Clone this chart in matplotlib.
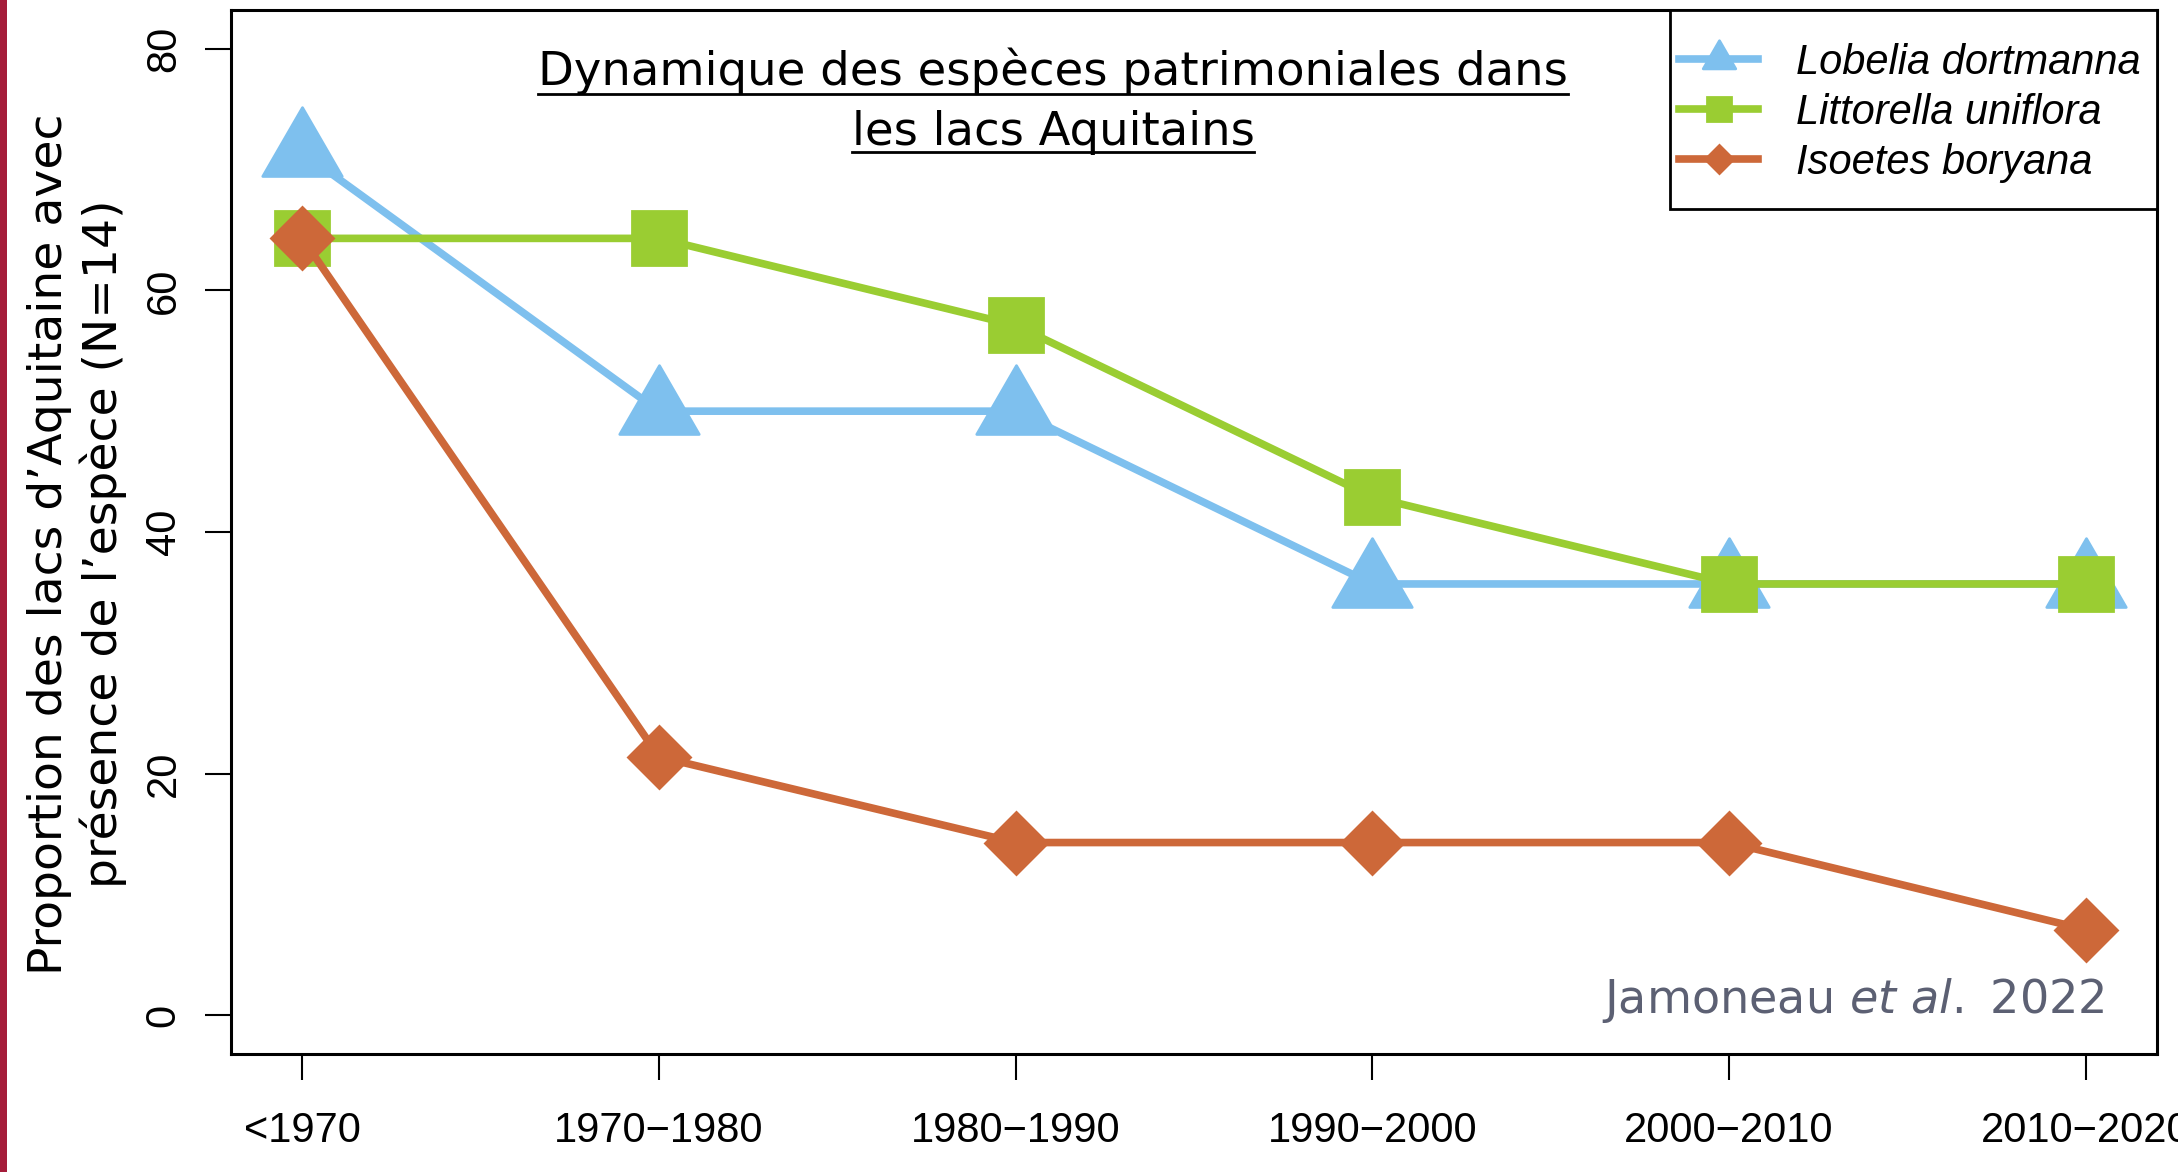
import matplotlib
matplotlib.use("Agg")
import matplotlib.pyplot as plt
from matplotlib.path import Path
from matplotlib.lines import Line2D
from matplotlib.patches import Rectangle
import numpy as np

# ---------------- data ----------------
periods = ["<1970", "1970\u22121980", "1980\u22121990", "1990\u22122000", "2000\u22122010", "2010\u22122020"]
lobelia = [71.4, 50.0, 50.0, 35.7, 35.7, 35.7]
littorella = [64.3, 64.3, 57.1, 42.9, 35.7, 35.7]
isoetes = [64.3, 21.4, 14.3, 14.3, 14.3, 7.1]
species = ["Lobelia dortmanna", "Littorella uniflora", "Isoetes boryana"]
yticks = [0, 20, 40, 60, 80]
title_lines = ["Dynamique des espèces patrimoniales dans", "les lacs Aquitains"]
ylabel_lines = ["Proportion des lacs d\u2019Aquitaine avec", "présence de l\u2019espèce (N=14)"]

c_lob = "#7EC0EE"
c_lit = "#9ACD32"
c_iso = "#CD6839"

plt.rcParams["mathtext.fontset"] = "dejavusans"
SANS = "Liberation Sans"
GEO = "DejaVu Sans"

W, H = 2178, 1172
fig = plt.figure(figsize=(W / 100, H / 100), dpi=100)
fig.patch.set_facecolor("white")


def fx(px):
    return px / W


def fy(py):
    return 1 - py / H


ax = fig.add_axes([fx(231), fy(1054), fx(2157) - fx(231), fy(10) - fy(1054)])

x = np.arange(1, len(periods) + 1)
tri = Path([(0, 0.577), (-0.5, -0.2887), (0.5, -0.2887), (0, 0.577)],
           [Path.MOVETO, Path.LINETO, Path.LINETO, Path.CLOSEPOLY])

ax.plot(x, lobelia, color=c_lob, lw=5.5, marker=tri, ms=66, mec=c_lob, mew=2, zorder=3)
ax.plot(x, littorella, color=c_lit, lw=5.5, marker="s", ms=39, mec=c_lit, mew=2, zorder=4)
ax.plot(x, isoetes, color=c_iso, lw=5.5, marker="D", ms=32, mec=c_iso, mew=2, zorder=5)

ax.set_xlim(0.8, 6.2)
ax.set_ylim(-3.2, 83.2)
ax.set_xticks(x)
ax.set_xticklabels(periods, fontfamily=SANS, fontsize=30)
ax.set_yticks(yticks)
ax.set_yticklabels([str(v) for v in yticks], fontfamily=SANS, fontsize=30,
                   rotation=90, va="center")
ax.tick_params(axis="both", direction="out", length=19, width=1.5, color="black")
ax.tick_params(axis="x", pad=22)
ax.tick_params(axis="y", pad=15)
for s in ax.spines.values():
    s.set_linewidth(2.2)
    s.set_color("black")

# left decorative bar
fig.patches.append(Rectangle((0, 0), fx(7), 1, transform=fig.transFigure,
                             facecolor="#A51C3A", edgecolor="none", zorder=1))

renderer = fig.canvas.get_renderer()


def fit(t, target, rotated=False):
    bb = t.get_window_extent(renderer)
    length = bb.height if rotated else bb.width
    t.set_fontsize(t.get_fontsize() * target / length)


# title
t1 = fig.text(fx(1053), fy(85), title_lines[0], ha="center", va="baseline",
              fontfamily=GEO, fontsize=34, color="black")
fit(t1, 1029)
t2 = fig.text(fx(1053), fy(145), title_lines[1], ha="center", va="baseline",
              fontfamily=GEO, fontsize=t1.get_fontsize(), color="black")
for t, uy in ((t1, 94), (t2, 152)):
    bb = t.get_window_extent(renderer)
    fig.add_artist(Line2D([bb.x0 / W, bb.x1 / W], [fy(uy), fy(uy)],
                          transform=fig.transFigure, color="black", lw=2))

# y label (two centred lines)
yl1 = fig.text(fx(62), fy(544), ylabel_lines[0], rotation=90, rotation_mode="anchor",
               ha="center", va="baseline", fontfamily=GEO, fontsize=34)
fit(yl1, 863, rotated=True)
yl2 = fig.text(fx(117), fy(544), ylabel_lines[1], rotation=90, rotation_mode="anchor",
               ha="center", va="baseline", fontfamily=GEO, fontsize=yl1.get_fontsize())

# source annotation
src = fig.text(fx(2105), fy(1013), r"Jamoneau $\it{et\ al.}$ 2022", ha="right", va="baseline",
               fontfamily=GEO, fontsize=30, color="#5C6073")
fit(src, 503)

# legend frame + legend
fig.patches.append(Rectangle((fx(1670), fy(209)), fx(2157) - fx(1670), fy(10) - fy(209),
                             transform=fig.transFigure, facecolor="white",
                             edgecolor="black", lw=2, zorder=2))
handles = [
    Line2D([], [], color=c_lob, lw=5.5, marker=tri, ms=27, mec=c_lob, mew=2),
    Line2D([], [], color=c_lit, lw=5.5, marker="s", ms=17, mec=c_lit, mew=2),
    Line2D([], [], color=c_iso, lw=5.5, marker="D", ms=14, mec=c_iso, mew=2),
]
leg = fig.legend(handles, species, loc="upper left",
                 bbox_to_anchor=(fx(1679), fy(43)), bbox_transform=fig.transFigure,
                 frameon=False, borderpad=0, borderaxespad=0, handlelength=1.9,
                 handletextpad=0.9, labelspacing=0.24,
                 prop={"family": SANS, "style": "italic", "size": 30})

fig.savefig("out.png", dpi=100, facecolor="white")
